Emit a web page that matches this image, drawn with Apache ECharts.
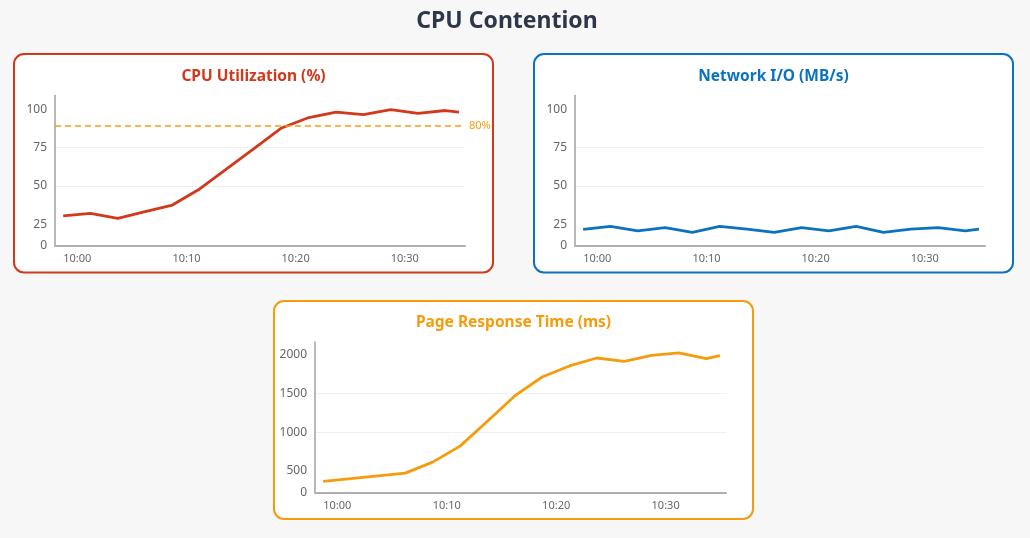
<!DOCTYPE html>
<html>
<head>
<meta charset="utf-8">
<title>CPU Contention</title>
<script src="https://cdn.jsdelivr.net/npm/echarts@6/dist/echarts.min.js"></script>
<style>
  html, body { margin: 0; padding: 0; background: #f7f7f7; }
  #chart { width: 1030px; height: 538px; }
</style>
</head>
<body>
<div id="chart"></div>
<script>
// minutes after 10:00
const minutes = [0, 2.5, 5, 7.5, 10, 12.5, 15, 17.5, 20, 22.5, 25, 27.5, 30, 32.5, 35, 36.25];
const timeTicks = [0, 10, 20, 30];

const cpuUtil = [30.5, 32, 28.8, 33.2, 37.5, 48, 61.3, 74.5, 87.8, 94.6, 98.2, 96.5, 99.8, 97.3, 99.2, 98.1];
const networkIO = [21.6, 23.6, 20.7, 22.7, 19.7, 23.6, 21.8, 19.7, 22.7, 20.7, 23.6, 19.7, 21.8, 22.7, 20.7, 21.8];
const pageResponse = [363, 398, 434, 470, 612, 819, 1142, 1469, 1714, 1857, 1960, 1917, 1995, 2025, 1952, 1991];

const pctTicks = [25, 50, 75, 100];
const msTicks = [500, 1000, 1500, 2000];
const thresholdLevel = 89.5;
const thresholdLabel = '80%';

const RED = '#d2381b';
const BLUE = '#0b72bd';
const ORANGE = '#f59c0d';
const FONT = 'Noto Sans';

function pairs(ys) {
    return minutes.map((m, i) => [m, ys[i]]);
}

function xAxisFor(gridIndex) {
    return {
        type: 'value', gridIndex: gridIndex,
        min: -0.75, max: 36.8,
        axisLine: {onZero: false, lineStyle: {color: '#b0b0b0', width: 2}},
        axisTick: {show: false, customValues: timeTicks},
        splitLine: {show: false},
        axisLabel: {
            customValues: timeTicks,
            formatter: v => '10:' + String(v).padStart(2, '0'),
            align: 'left', color: '#666', fontSize: 11, fontFamily: FONT, margin: 8
        }
    };
}

function yAxisFor(gridIndex, lo, hi, ticks) {
    return {
        type: 'value', gridIndex: gridIndex,
        min: lo, max: hi,
        axisLine: {show: true, onZero: false, lineStyle: {color: '#a0a0a0', width: 1.5}},
        axisTick: {show: false, customValues: ticks.slice(1, 3)},
        splitLine: {show: true, lineStyle: {color: '#f0f0f0', width: 1}},
        axisLabel: {
            customValues: [lo].concat(ticks),
            formatter: v => v === lo ? '0' : String(v),
            color: '#666', fontSize: 12, fontFamily: FONT, margin: 8
        }
    };
}

function panel(x, y, w, h, color) {
    return {
        type: 'rect', z: -1,
        shape: {x: x, y: y, width: w, height: h, r: 10},
        style: {fill: '#fff', stroke: color, lineWidth: 2}
    };
}

function panelTitle(text, x, y, color) {
    return {
        type: 'text', z: 5, x: x, y: y,
        style: {text: text, fill: color, font: 'bold 15.5px "Noto Sans"', textAlign: 'center', textVerticalAlign: 'middle'}
    };
}

function lineSeries(idx, ys, color) {
    return {
        type: 'line', xAxisIndex: idx, yAxisIndex: idx,
        data: pairs(ys), showSymbol: false, symbol: 'none',
        lineStyle: {color: color, width: 2.8}, itemStyle: {color: color}
    };
}

const chart = echarts.init(document.getElementById('chart'));

const cpu = lineSeries(0, cpuUtil, RED);
cpu.markLine = {
    silent: true, symbol: 'none',
    itemStyle: {color: ORANGE},
    lineStyle: {color: ORANGE, type: [6, 4], width: 1.5, opacity: 1},
    label: {position: 'end', formatter: thresholdLabel, color: ORANGE, fontSize: 11, fontFamily: FONT, distance: 4},
    data: [{yAxis: thresholdLevel, itemStyle: {color: ORANGE}, lineStyle: {color: ORANGE, type: [6, 4], width: 1.5}}]
};

chart.setOption({
    animation: false,
    backgroundColor: '#f7f7f7',
    graphic: {
        elements: [
            {
                type: 'text', x: 507, y: 21, z: 5,
                style: {text: 'CPU Contention', fill: '#2d3748', font: 'bold 23px "Noto Sans"', textAlign: 'center', textVerticalAlign: 'middle'}
            },
            panel(14, 54, 479, 218.5, RED),
            panel(534, 54, 479, 218.5, BLUE),
            panel(274, 301, 479, 218, ORANGE),
            panelTitle('CPU Utilization (%)', 253.5, 76.5, RED),
            panelTitle('Network I/O (MB/s)', 773.5, 76.5, BLUE),
            panelTitle('Page Response Time (ms)', 513.5, 323, ORANGE)
        ]
    },
    grid: [
        {left: 55, top: 95.5, width: 410, height: 150},
        {left: 575, top: 95.5, width: 410, height: 150},
        {left: 315, top: 342, width: 411, height: 150.7}
    ],
    xAxis: [xAxisFor(0), xAxisFor(1), xAxisFor(2)],
    yAxis: [
        yAxisFor(0, 11.1, 109, pctTicks),
        yAxisFor(1, 11.1, 109, pctTicks),
        yAxisFor(2, 216, 2167, msTicks)
    ],
    series: [
        cpu,
        lineSeries(1, networkIO, BLUE),
        lineSeries(2, pageResponse, ORANGE)
    ]
});
</script>
</body>
</html>
